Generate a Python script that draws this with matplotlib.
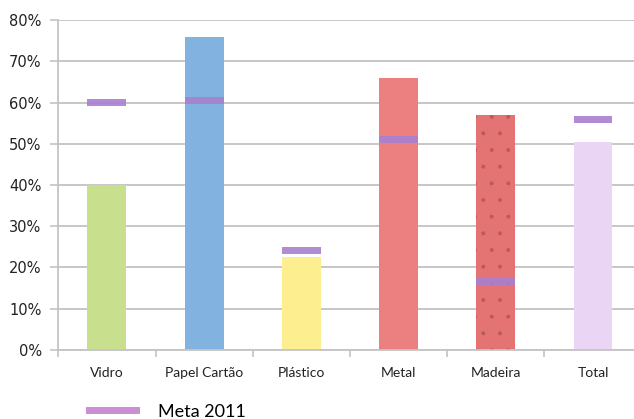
import matplotlib.pyplot as plt
from matplotlib.lines import Line2D
from matplotlib.ticker import FuncFormatter, MultipleLocator

# ----------------------------
# Data
# ----------------------------
categories = ["Vidro", "Papel Cartão", "Plástico", "Metal", "Madeira", "Total"]
valores = [40, 76, 22.5, 66, 57, 50.5]
meta_2011 = [60, 60.5, 24, 51, 16.5, 56]
bar_colors = ["#c8e08e", "#82b2e0", "#fdef90", "#ec8080", "#e47474", "#ead6f4"]

plt.rcParams["hatch.linewidth"] = 0.4

# ----------------------------
# Figure
# ----------------------------
fig = plt.figure(figsize=(6.34, 4.19), dpi=100)
ax = fig.add_axes([0.092, 0.165, 0.92, 0.787])

x = list(range(len(categories)))
bars = ax.bar(x, valores, width=0.4, color=bar_colors, linewidth=0, zorder=2)
# madeira has a sparse dotted texture
bars[4].set_hatch(".")
bars[4].set_edgecolor("#b85a5a")

# Meta 2011 markers: short thick bars
marker_h = 1.7
ax.bar(x, [marker_h] * len(x), bottom=[m - marker_h / 2 for m in meta_2011],
       width=0.4, color="#a97fcf", alpha=0.9, linewidth=0, zorder=3)

ax.set_xlim(-0.5, 5.45)
ax.set_ylim(0, 80)
ax.yaxis.set_major_locator(MultipleLocator(10))
ax.yaxis.set_major_formatter(FuncFormatter(lambda v, p: f"{v:.0f}%"))
ax.grid(axis="y", color="#b8b8b8", linewidth=1.1, zorder=0)

for side in ["top", "right"]:
    ax.spines[side].set_visible(False)
for side in ["left", "bottom"]:
    ax.spines[side].set_color("#c4c4c4")
    ax.spines[side].set_linewidth(1.3)

# category labels between ticks, ticks on category boundaries
ax.set_xticks([i - 0.5 for i in range(len(categories) + 1)])
ax.set_xticklabels([])
ax.set_xticks(x, minor=True)
ax.set_xticklabels(categories, minor=True, fontsize=10, family="Lato", color="#222222")
ax.tick_params(axis="x", which="major", length=5, color="#c4c4c4", width=1.2)
ax.tick_params(axis="x", which="minor", length=0, pad=12)
ax.tick_params(axis="y", length=6, color="#c4c4c4", width=1.2, labelsize=10.5,
               labelcolor="#222222", pad=6)

handle = Line2D([], [], color="#c98fd2", linewidth=5)
fig.legend([handle], ["Meta 2011"], loc="lower left", bbox_to_anchor=(0.115, -0.04),
           frameon=False, handlelength=2.6, handletextpad=1.2,
           prop={"family": "Lato", "size": 13})

fig.savefig("out.png", dpi=100)
